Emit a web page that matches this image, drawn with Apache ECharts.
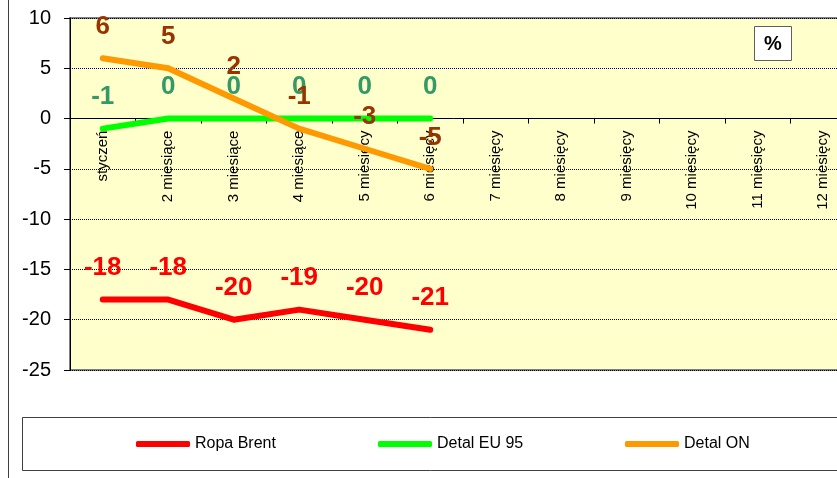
<!DOCTYPE html>
<html>
<head>
<meta charset="utf-8">
<script src="https://cdn.jsdelivr.net/npm/echarts@6/dist/echarts.min.js"></script>
<style>html,body{margin:0;padding:0;background:#fff}#c{width:837px;height:478px}</style>
</head>
<body>
<div id="c"></div>
<script>
const categories = ['styczeń','2 miesiące','3 miesiące','4 miesiące','5 miesięcy','6 miesięcy','7 miesięcy','8 miesięcy','9 miesięcy','10 miesięcy','11 miesięcy','12 miesięcy'];
const seriesNames = ['Ropa Brent','Detal EU 95','Detal ON'];
const ropaBrent = [-18,-18,-20,-19,-20,-21];
const detalEU95 = [-1,0,0,0,0,0];
const detalON = [6,5,2,-1,-3,-5];
const yMin = -25, yMax = 10, yStep = 5;

const FONT = 'Arial, "Liberation Sans", sans-serif';
const chart = echarts.init(document.getElementById('c'));

const gridTop = 18, gridBottom = 108, H = 478;
const plotH = H - gridTop - gridBottom;
const zeroOffset = -plotH * (0 - yMin) / (yMax - yMin);

function lineSeries(name, data, color, labelColor) {
  return {
    name: name, type: 'line', data: data,
    symbol: 'circle', symbolSize: 5, showSymbol: true,
    lineStyle: {color: color, width: 6, cap: 'round', join: 'round'},
    itemStyle: {color: color},
    label: {show: true, position: 'top', distance: 16, color: labelColor,
      fontFamily: FONT, fontWeight: 'bold', fontSize: 26},
    emphasis: {disabled: true},
    animation: false
  };
}
function legendAt(name, left) {
  return {
    data: [name], left: left, top: 436, padding: 0,
    icon: 'roundRect', itemWidth: 54, itemHeight: 6,
    textStyle: {fontFamily: FONT, fontSize: 16, color: '#000'},
    selectedMode: false
  };
}

chart.setOption({
  backgroundColor: '#fff',
  animation: false,
  grid: {left: 70, top: gridTop, bottom: gridBottom, right: -19, outerBoundsMode: 'none', containLabel: false, show: true,
    backgroundColor: '#FFFFCC', borderColor: '#808080', borderWidth: 2},
  xAxis: {
    type: 'category', data: categories, boundaryGap: true,
    position: 'bottom', offset: zeroOffset,
    axisLine: {onZero: false, lineStyle: {color: '#000', width: 1}},
    axisTick: {show: true, length: 5, lineStyle: {color: '#000'}},
    axisLabel: {rotate: 90, interval: 0, margin: 12, fontSize: 15, fontFamily: FONT, color: '#000'},
    splitLine: {show: false}
  },
  yAxis: {
    type: 'value', min: yMin, max: yMax, interval: yStep,
    axisLine: {show: true, lineStyle: {color: '#000', width: 1}},
    axisTick: {show: true, length: 6, lineStyle: {color: '#000'}},
    axisLabel: {fontSize: 20, fontFamily: FONT, color: '#000', margin: 19},
    splitLine: {show: true, lineStyle: {color: '#000', width: 1, type: [1, 1]}}
  },
  legend: [legendAt(seriesNames[0], 136), legendAt(seriesNames[1], 378), legendAt(seriesNames[2], 625)],
  graphic: [
    {type: 'rect', z: 0, shape: {x: 22.5, y: 417.5, width: 830, height: 53},
      style: {fill: '#fff', stroke: '#404040', lineWidth: 1}},
    {type: 'line', z: 0, shape: {x1: 8.5, y1: 0, x2: 8.5, y2: 478},
      style: {stroke: '#404040', lineWidth: 1}},
    {type: 'rect', z: 10, shape: {x: 754.5, y: 26.5, width: 37, height: 34},
      style: {fill: '#fff', stroke: '#606060', lineWidth: 1}},
    {type: 'text', z: 11, x: 773, y: 44,
      style: {text: '%', fontFamily: FONT, fontWeight: 'bold', fontSize: 20, fill: '#000', align: 'center', verticalAlign: 'middle'}}
  ],
  series: [
    lineSeries(seriesNames[0], ropaBrent, '#FF0000', '#FF0000'),
    lineSeries(seriesNames[1], detalEU95, '#00FF00', '#339966'),
    lineSeries(seriesNames[2], detalON, '#FF9900', '#993300')
  ]
});
</script>
</body>
</html>
